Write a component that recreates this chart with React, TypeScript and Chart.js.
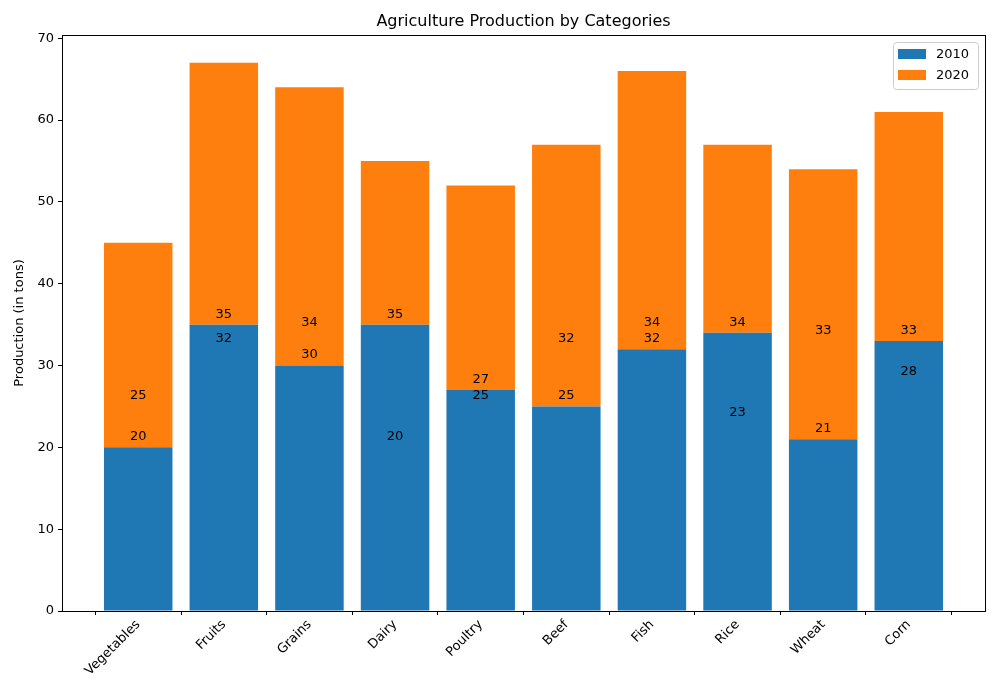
import React, { useEffect, useRef } from "react";
import { Chart, registerables } from "chart.js";
Chart.register(...registerables);

const categories = ["Vegetables", "Fruits", "Grains", "Dairy", "Poultry", "Beef", "Fish", "Rice", "Wheat", "Corn"];
const values2010 = [20, 35, 30, 35, 27, 25, 32, 34, 21, 33];
const values2020 = [25, 32, 34, 20, 25, 32, 34, 23, 33, 28];
const seriesNames = ["2010", "2020"];
const colors = ["#1f77b4", "#ff7f0e"];
const FONT = "DejaVu Sans";

const deco = {
  id: "deco",
  afterDatasetsDraw(chart: any) {
    const { ctx, chartArea: a, scales } = chart;
    const xs = scales.x, ys = scales.y;
    ctx.save();
    ctx.fillStyle = "#000";
    ctx.font = `13px "${FONT}"`;
    ctx.textAlign = "center";
    ctx.textBaseline = "bottom";
    [values2010, values2020].forEach((arr) => {
      arr.forEach((v, i) => {
        ctx.fillText(String(v), xs.getPixelForValue(i), ys.getPixelForValue(v) - 4);
      });
    });
    ctx.strokeStyle = "#000";
    ctx.lineWidth = 1;
    ctx.strokeRect(a.left + 0.5, a.top + 0.5, a.right - a.left, a.bottom - a.top);
    ctx.font = `16px "${FONT}"`;
    ctx.textBaseline = "middle";
    ctx.fillText("Agriculture Production by Categories", (a.left + a.right) / 2, 22);
    const lx = a.right - 92, ly = a.top + 7, lw = 85, lh = 47;
    ctx.fillStyle = "rgba(255,255,255,0.8)";
    ctx.strokeStyle = "#ccc";
    ctx.beginPath();
    (ctx as any).roundRect(lx + 0.5, ly + 0.5, lw, lh, 3);
    ctx.fill();
    ctx.stroke();
    ctx.font = `13px "${FONT}"`;
    ctx.textAlign = "left";
    seriesNames.forEach((n, i) => {
      const yy = ly + 12 + i * 21;
      ctx.fillStyle = colors[i];
      ctx.fillRect(lx + 5, yy - 5, 28, 10);
      ctx.fillStyle = "#000";
      ctx.fillText(n, lx + 43, yy + 1);
    });
    ctx.restore();
  },
};

export default function App() {
  const ref = useRef<HTMLCanvasElement>(null);
  useEffect(() => {
    document.body.style.margin = "0";
    const chart = new Chart(ref.current!, {
      type: "bar",
      data: {
        datasets: [
          { label: seriesNames[0], data: values2010.map((v, i) => ({ x: i, y: v })), backgroundColor: colors[0], categoryPercentage: 0.8, barPercentage: 1 },
          { label: seriesNames[1], data: values2020.map((v, i) => ({ x: i, y: v })), backgroundColor: colors[1], categoryPercentage: 0.8, barPercentage: 1 },
        ],
      },
      options: {
        responsive: false,
        animation: false,
        devicePixelRatio: 1,
        layout: { padding: { left: 12, top: 35, right: 15, bottom: 0 } },
        plugins: { legend: { display: false }, tooltip: { enabled: false } },
        scales: {
          x: {
            type: "linear",
            stacked: true,
            offset: false,
            min: -0.89,
            max: 9.89,
            afterBuildTicks: (s: any) => { s.ticks = categories.map((_, i) => ({ value: i })); },
            grid: { display: true, drawOnChartArea: false, drawTicks: true, tickLength: 4, color: "#000" },
            border: { display: false },
            ticks: {
              color: "#000", font: { family: FONT, size: 13 }, maxRotation: 45, minRotation: 45, padding: 2,
              callback: (v: any) => categories[v] ?? "",
            },
            afterFit: (s: any) => { s.height = 89; },
          },
          y: {
            stacked: true,
            min: 0,
            max: 70.4,
            afterBuildTicks: (s: any) => { s.ticks = [0, 10, 20, 30, 40, 50, 60, 70].map((v) => ({ value: v })); },
            grid: { display: true, drawOnChartArea: false, drawTicks: true, tickLength: 4, color: "#000" },
            border: { display: false },
            ticks: { color: "#000", font: { family: FONT, size: 13 }, padding: 4 },
            title: { display: true, text: "Production (in tons)", color: "#000", font: { family: FONT, size: 13 }, padding: 0 },
            afterFit: (s: any) => { s.width = 50; },
          },
        },
      },
      plugins: [deco],
    });
    return () => chart.destroy();
  }, []);
  return <canvas ref={ref} width={1000} height={700} />;
}
